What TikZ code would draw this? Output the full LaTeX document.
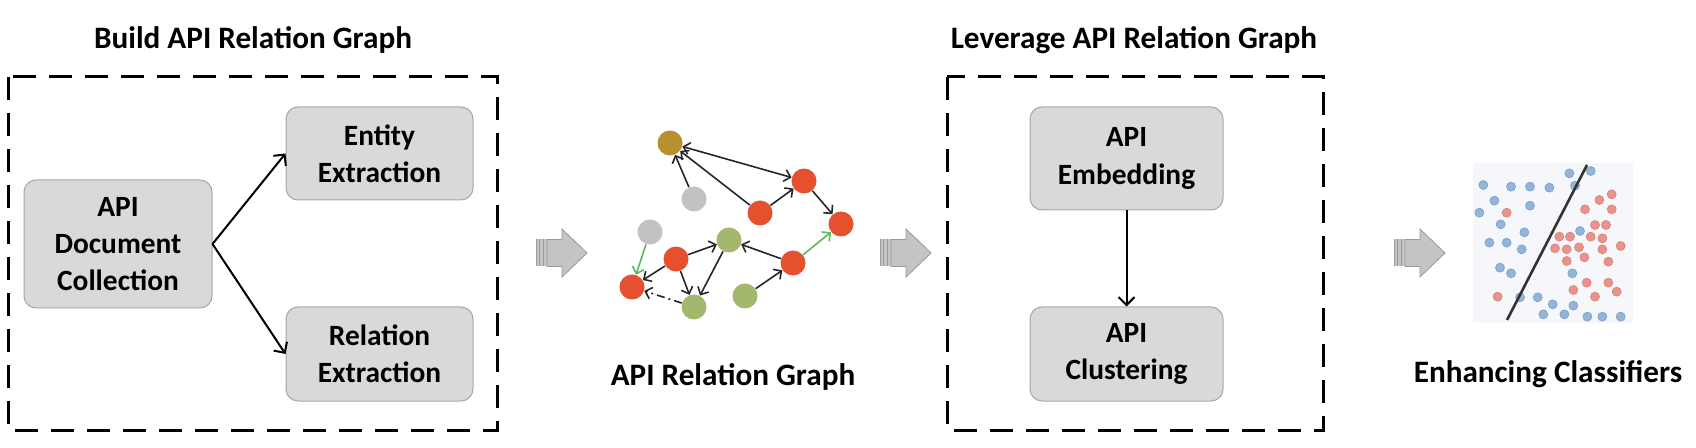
\documentclass[tikz,border=0pt]{standalone}
\usepackage{fontspec}
\setmainfont{Carlito}
\usetikzlibrary{arrows.meta}
\definecolor{boxfill}{HTML}{D9D9D9}
\definecolor{boxline}{HTML}{A6A6A6}
\definecolor{nred}{HTML}{E5502E}
\definecolor{ngreen}{HTML}{A3B86C}
\definecolor{ngray}{HTML}{C2C2C2}
\definecolor{ngold}{HTML}{B8912F}
\definecolor{egreen}{HTML}{5CB85C}
\definecolor{arrfill}{HTML}{C4C4C4}
\definecolor{arrline}{HTML}{9A9A9A}
\definecolor{bdot}{HTML}{93B5DA}
\definecolor{bdotl}{HTML}{7C9DC3}
\definecolor{rdot}{HTML}{E9938B}
\definecolor{rdotl}{HTML}{D47F77}
\definecolor{scbg}{HTML}{F5F7FA}
\begin{document}
\begin{tikzpicture}[x=0.5pt,y=-0.5pt,
  procbox/.style={draw=boxline, fill=boxfill, rounded corners=6pt, line width=0.5pt,
    align=center, font=\bfseries\fontsize{14.7pt}{18.7pt}\selectfont, inner sep=2pt},
  titletext/.style={font=\bfseries\fontsize{15.6pt}{18pt}\selectfont},
  groupbox/.style={draw=black, line width=1.5pt, dash pattern=on 11.5pt off 6.5pt},
  mainarrow/.style={-{Straight Barb[length=4pt,width=8pt]}, line width=1pt},
  gnode/.style={circle, minimum size=12.5pt, inner sep=0pt},
  gedge/.style={-{Straight Barb[length=3pt,width=6pt]}, line width=0.8pt, draw=black!85},
  grayarrow/.pic={
    \fill[arrfill] (0,-13.5) rectangle (3,13.5);
    \fill[arrfill] (4,-13.5) rectangle (7,13.5);
    \fill[arrfill] (8,-13.5) rectangle (11,13.5);
    \draw[arrline, line width=0.3pt] (0,-13.5) -- (0,13.5) (3.5,-13.5) -- (3.5,13.5) (7.5,-13.5) -- (7.5,13.5);
    \draw[arrline, fill=arrfill, line width=0.4pt] (11,-13.5) -- (26,-13.5) -- (26,-24) -- (51,0) -- (26,24) -- (26,13.5) -- (11,13.5) -- cycle;
  }
]
\useasboundingbox (0,0) rectangle (1696,448);

% ---------------- Build API Relation Graph ----------------
\node[titletext] (t1) at (253,40) {Build API Relation Graph};
\draw[groupbox] (8,77) rectangle (497,430);
\node[procbox, minimum width=94pt, minimum height=64pt] (doc) at (118,244) {API\\Document\\Collection};
\node[procbox, minimum width=93.5pt, minimum height=46.5pt] (ent) at (379.5,153.5) {Entity\\Extraction};
\node[procbox, minimum width=93.5pt, minimum height=47pt] (rel) at (379.5,354) {Relation\\Extraction};
\draw[mainarrow] (doc.east) -- (ent.west);
\draw[mainarrow] (doc.east) -- (rel.west);

% ---------------- arrow 1 ----------------
\pic at (536,253) {grayarrow};

% ---------------- API Relation Graph ----------------
\node[gnode, fill=ngold] (g0) at (670,143) {};
\node[gnode, fill=ngray] (g1) at (694,199) {};
\node[gnode, fill=nred] (ra) at (760,213) {};
\node[gnode, fill=nred] (rb) at (804,181) {};
\node[gnode, fill=nred] (rc) at (841,224) {};
\node[gnode, fill=ngray] (g2) at (650,232) {};
\node[gnode, fill=ngreen] (n1) at (729,240) {};
\node[gnode, fill=nred] (rd) at (676,259) {};
\node[gnode, fill=nred] (re) at (793,263) {};
\node[gnode, fill=nred] (rf) at (632,287) {};
\node[gnode, fill=ngreen] (n2) at (745,296) {};
\node[gnode, fill=ngreen] (n3) at (694,307) {};

\draw[gedge] (g1) -- (g0);
\draw[gedge] (ra) -- (g0);
\draw[gedge, {Straight Barb[length=3pt,width=6pt]}-{Straight Barb[length=3pt,width=6pt]}] (g0) -- (rb);
\draw[gedge] (ra) -- (rb);
\draw[gedge] (rb) -- (rc);
\draw[gedge, draw=egreen] (re) -- (rc);
\draw[gedge] (re) -- (n1);
\draw[gedge] (rd) -- (n1);
\draw[gedge] (n1) -- (n3);
\draw[gedge] (rd) -- (n3);
\draw[gedge] (rd) -- (rf);
\draw[gedge, draw=egreen] (g2) -- (rf);
\draw[gedge, dash pattern=on 4pt off 2pt on 1pt off 2pt] (n3) -- (rf);
\draw[gedge] (n2) -- (re);

\node[titletext] (t2) at (733,377) {API Relation Graph};

% ---------------- arrow 2 ----------------
\pic at (880,253) {grayarrow};

% ---------------- Leverage API Relation Graph ----------------
\node[titletext] (t3) at (1134,40) {Leverage API Relation Graph};
\draw[groupbox] (947,77) rectangle (1323,430);
\node[procbox, minimum width=96.5pt, minimum height=51.5pt] (emb) at (1126.5,158.5) {API\\Embedding};
\node[procbox, minimum width=96.5pt, minimum height=47pt] (clu) at (1126.5,354) {API\\Clustering};
\draw[mainarrow] (emb) -- (clu);

% ---------------- arrow 3 ----------------
\pic at (1394,253) {grayarrow};

% ---------------- Enhancing Classifiers ----------------
\fill[scbg] (1473,163) rectangle (1633,323);
\begin{scope}[shift={(1400,140)}, scale=1/3]
  \foreach \p in {(250,135),(333,140),(390,140),(448,143),(508,100),(572,93),(525,137),(283,182),(390,197),(238,218),(302,253),(373,277),(268,308),(320,308),(365,328),(540,273),(300,383),(333,400),(517,400),(360,472),(413,472),(458,493),(520,497),(430,523),(493,523),(562,530),(607,530),(662,530)}
    \draw[fill=bdot, draw=bdotl, line width=0.3pt] \p circle[radius=13.5];
  \foreach \p in {(320,218),(635,163),(598,180),(555,208),(635,208),(585,255),(618,255),(478,290),(510,290),(572,290),(607,295),(465,325),(500,328),(537,322),(607,328),(662,318),(500,363),(553,352),(625,365),(560,428),(625,428),(520,450),(650,455),(585,470),(293,470)}
    \draw[fill=rdot, draw=rdotl, line width=0.3pt] \p circle[radius=13.5];
\end{scope}
\coordinate (sl1) at (1507,320);
\coordinate (sl2) at (1587,165);
\draw[line width=1.3pt, draw=black!80] (sl1) -- (sl2);
\node[titletext] (t4) at (1548,374) {Enhancing Classifiers};

\end{tikzpicture}
\end{document}
